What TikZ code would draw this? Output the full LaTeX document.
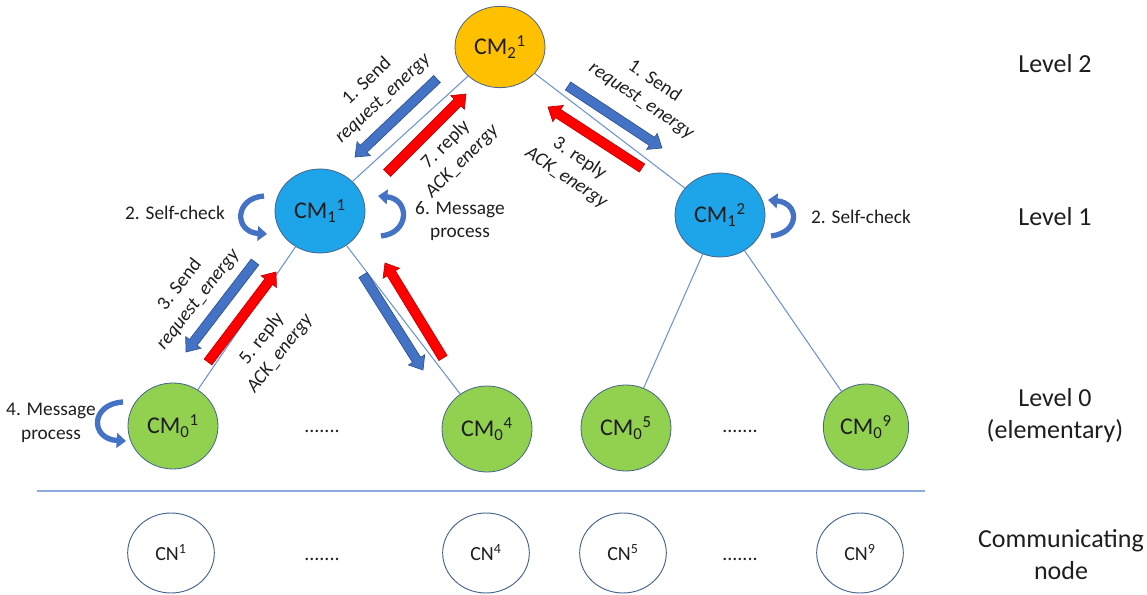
\documentclass[tikz,border=0pt]{standalone}
\usepackage{fontspec}
\setmainfont{Carlito}
\usetikzlibrary{shapes.geometric,calc,arrows.meta}

\definecolor{cmorange}{RGB}{255,192,0}
\definecolor{cmblue}{RGB}{30,164,232}
\definecolor{cmgreen}{RGB}{146,208,80}
\definecolor{nodeline}{RGB}{70,100,140}
\definecolor{edgeblue}{RGB}{110,148,212}
\definecolor{sepblue}{RGB}{140,172,222}
\definecolor{msgblue}{RGB}{68,114,196}
\definecolor{msgblueline}{RGB}{47,82,143}
\definecolor{msgred}{RGB}{255,0,0}
\definecolor{msgredline}{RGB}{192,0,0}
\definecolor{txt}{RGB}{30,30,30}

% block arrow: #1 style, #2 tail coordinate, #3 tip coordinate
\newcommand\blockarrow[3]{%
  \coordinate (ba-h) at ($(#3)!9pt!(#2)$);
  \filldraw[#1, line join=miter]
    ($(#2)!3.6pt!90:(#3)$) -- ($(ba-h)!3.6pt!90:(#3)$) -- ($(ba-h)!7.2pt!90:(#3)$)
    -- (#3) -- ($(ba-h)!7.2pt!-90:(#3)$) -- ($(ba-h)!3.6pt!-90:(#3)$)
    -- ($(#2)!3.6pt!-90:(#3)$) -- cycle;}

\tikzset{
  cmnode/.style={ellipse, draw=nodeline, line width=0.6pt, inner sep=0pt,
    minimum width=67.5pt, text=txt, font=\fontsize{18}{20}\selectfont},
  cmtop/.style={cmnode, fill=cmorange, minimum height=61pt},
  cmmid/.style={cmnode, fill=cmblue, minimum height=63pt},
  cmleaf/.style={cmnode, fill=cmgreen, minimum height=64.5pt},
  cnnode/.style={ellipse, draw=nodeline, line width=0.7pt, fill=white, inner sep=0pt,
    minimum width=65pt, minimum height=60pt, text=txt, font=\fontsize{15}{17}\selectfont},
  dotsnode/.style={anchor=base, text=txt, font=\fontsize{15}{17}\selectfont},
  treeedge/.style={draw=edgeblue, line width=0.8pt},
  lvl/.style={align=center, text=txt, font=\fontsize{19.5}{24}\selectfont},
  lbl/.style={align=center, text=txt, font=\fontsize{14.5}{17.5}\selectfont},
  reqarrow/.style={fill=msgblue, draw=msgblueline, line width=0.5pt},
  ackarrow/.style={fill=msgred, draw=msgredline, line width=0.5pt},
  selfarrow/.style={draw=msgblue, line width=4pt,
    -{Triangle[length=7pt,width=11pt]}},
}

\begin{document}
\begin{tikzpicture}[x=0.75pt, y=-0.75pt]
\useasboundingbox (0,0) rectangle (1147,595);

% cluster managers
\node[cmtop]  (cm2)  at (500,47)  {CM\textsubscript{2}\textsuperscript{1}};
\node[cmmid]  (cm11) at (320,211) {CM\textsubscript{1}\textsuperscript{1}};
\node[cmmid]  (cm12) at (720,215) {CM\textsubscript{1}\textsuperscript{2}};
\node[cmleaf] (cm01) at (173,426) {CM\textsubscript{0}\textsuperscript{1}};
\node[cmleaf] (cm04) at (487,429) {CM\textsubscript{0}\textsuperscript{4}};
\node[cmleaf] (cm05) at (626,428) {CM\textsubscript{0}\textsuperscript{5}};
\node[cmleaf, minimum width=64pt] (cm09) at (866,427) {CM\textsubscript{0}\textsuperscript{9}};
\node[dotsnode] (cmdotsA) at (322,433) {.......};
\node[dotsnode] (cmdotsB) at (740,433) {.......};

% hierarchy links
\draw[treeedge] (cm2) -- (cm11);
\draw[treeedge] (cm2) -- (cm12);
\draw[treeedge] (cm11) -- (cm01);
\draw[treeedge] (cm11) -- (cm04);
\draw[treeedge] (cm12) -- (cm05);
\draw[treeedge] (cm12) -- (cm09);

% separator between managers and communicating nodes
\coordinate (sepL) at (37,491);
\coordinate (sepR) at (925,491);
\draw[draw=sepblue, line width=1.8pt] (sepL) -- (sepR);

% communicating nodes
\node[cnnode] (cn1) at (171,553) {CN\textsuperscript{1}};
\node[cnnode] (cn4) at (486,553) {CN\textsuperscript{4}};
\node[cnnode] (cn5) at (623,553) {CN\textsuperscript{5}};
\node[cnnode] (cn9) at (860,553) {CN\textsuperscript{9}};
\node[dotsnode] (cndotsA) at (322,560) {.......};
\node[dotsnode] (cndotsB) at (740,560) {.......};

% level captions
\node[lvl] (lv2) at (1055,64) {Level 2};
\node[lvl] (lv1) at (1055,217) {Level 1};
\node[lvl] (lv0) at (1055,416) {Level 0\\(elementary)};
\node[lvl] (lvcn) at (1061,555) {Communicating\\node};

% request / acknowledgement messages
\coordinate (r1t) at (437,79);  \coordinate (r1h) at (355,157);
\coordinate (a7t) at (387,173); \coordinate (a7h) at (466,94);
\coordinate (r1rt) at (568,86); \coordinate (r1rh) at (662,148);
\coordinate (a3rt) at (642,168); \coordinate (a3rh) at (548,107);
\coordinate (r3t) at (255,262); \coordinate (r3h) at (186,352);
\coordinate (a5t) at (208,362); \coordinate (a5h) at (276,272);
\coordinate (r4t) at (363,275); \coordinate (r4h) at (423,370);
\coordinate (a4t) at (443,358); \coordinate (a4h) at (385,263);

\blockarrow{reqarrow}{r1t}{r1h}
\blockarrow{ackarrow}{a7t}{a7h}
\blockarrow{reqarrow}{r1rt}{r1rh}
\blockarrow{ackarrow}{a3rt}{a3rh}
\blockarrow{reqarrow}{r3t}{r3h}
\blockarrow{ackarrow}{a5t}{a5h}
\blockarrow{reqarrow}{r4t}{r4h}
\blockarrow{ackarrow}{a4t}{a4h}

\node[lbl, rotate=43] (t1l) at (375,90) {1. Send\\\textit{request\_energy}};
\node[lbl, rotate=45] (t7)  at (454,153) {7. reply\\\textit{ACK\_energy}};
\node[lbl, rotate=-34] (t1r) at (648,91) {1. Send\\\textit{request\_energy}};
\node[lbl, rotate=-34] (t3r) at (573,168) {3. reply\\\textit{ACK\_energy}};
\node[lbl, rotate=52] (t3l) at (189,292) {3. Send\\\textit{request\_energy}};
\node[lbl, rotate=52] (t5)  at (271,346) {5. reply\\\textit{ACK\_energy}};

% local processing loops
\coordinate (s1a) at (264,196); \coordinate (s1b) at (267,234);
\draw[selfarrow] (s1a) .. controls (234,198) and (234,232) .. (s1b);
\coordinate (s6a) at (381,236); \coordinate (s6b) at (378,196);
\draw[selfarrow] (s6a) .. controls (410,233) and (410,199) .. (s6b);
\coordinate (s2a) at (771,236); \coordinate (s2b) at (768,200);
\draw[selfarrow] (s2a) .. controls (800,233) and (800,203) .. (s2b);
\coordinate (s4a) at (123,402); \coordinate (s4b) at (126,441);
\draw[selfarrow] (s4a) .. controls (90,404) and (90,439) .. (s4b);

\node[lbl] (t2l) at (175,213) {2. Self-check};
\node[lbl] (t6)  at (460,221) {6. Message\\process};
\node[lbl] (t2r) at (861,217) {2. Self-check};
\node[lbl] (t4)  at (51,423)  {4. Message\\process};
\end{tikzpicture}
\end{document}
